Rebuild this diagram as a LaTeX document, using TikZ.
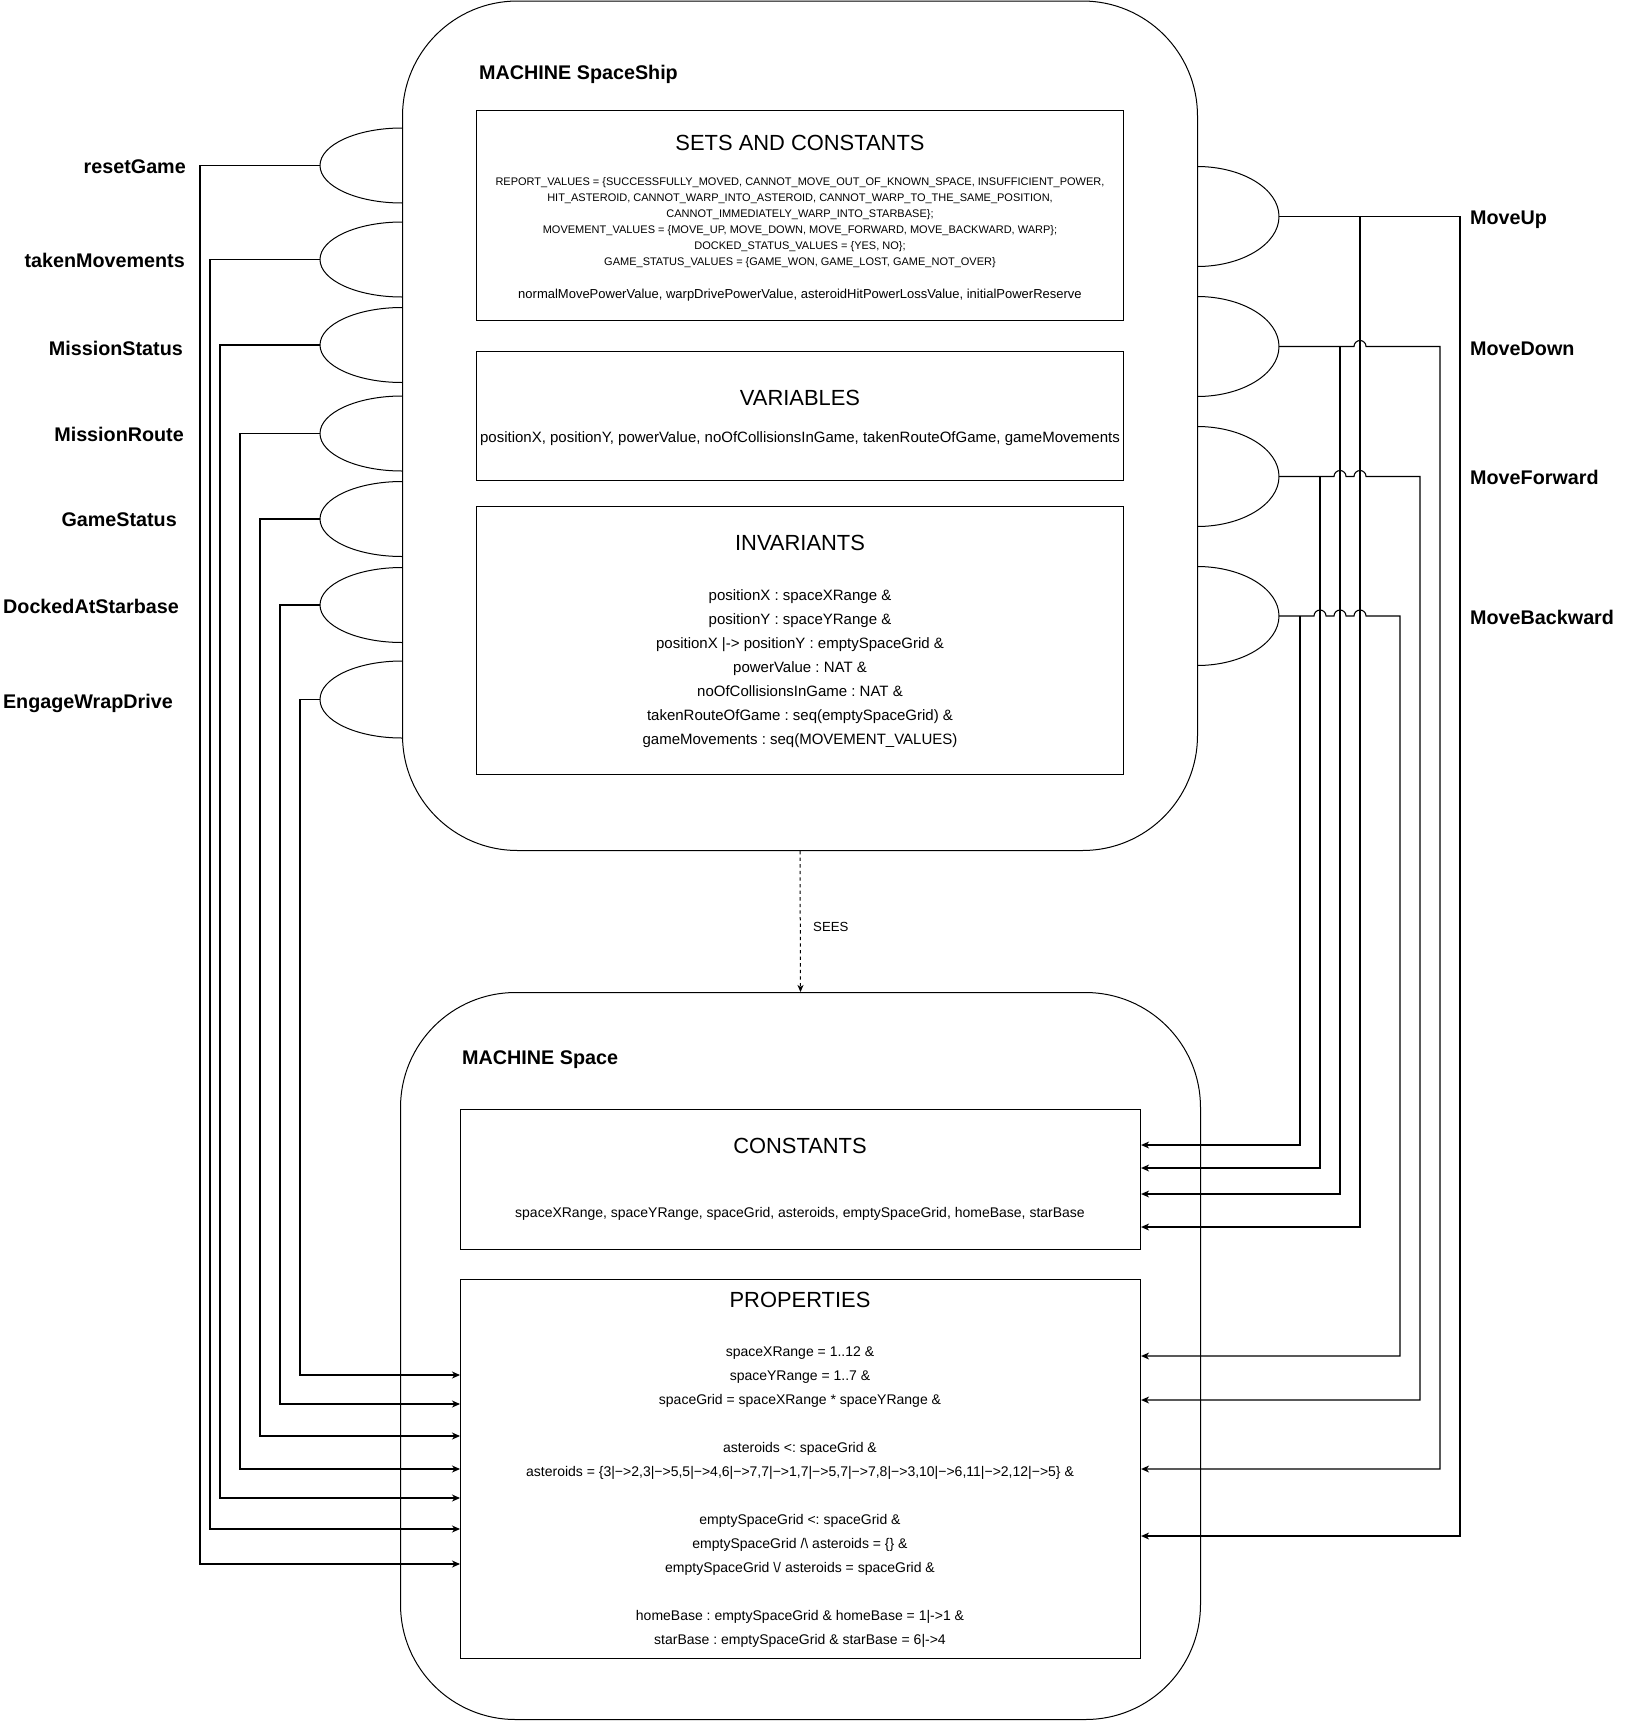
\documentclass[tikz,border=0pt]{standalone}
\usepackage{fontspec}
\setmainfont{Liberation Sans}
\usetikzlibrary{arrows.meta}
\frenchspacing
\newcommand{\opleft}[3]{\draw [black,line width=1pt] (402,{#2-#3}) arc[start angle=90,end angle=270,x radius=82pt,y radius=#3pt];
\coordinate (#1) at (320,#2);}
\newcommand{\opright}[3]{\draw [black,line width=1pt] (1197,{#2-#3}) arc[start angle=90,end angle=-90,x radius=82pt,y radius=#3pt];
\coordinate (#1) at (1279,#2);}

\begin{document}
\begin{tikzpicture}[x=1pt,y=-1pt]
\tikzstyle{every node}+=[inner sep=0pt]
\tikzstyle{machine}=[draw,black,line width=1pt,rounded corners=115pt,anchor=north west]
\tikzstyle{partbox}=[draw,black,line width=1.1pt,anchor=north west]
\tikzstyle{heading}=[font=\fontsize{21.9}{26}\selectfont]
\tikzstyle{bodytext}=[font=\fontsize{13}{24}\selectfont,align=center]
\tikzstyle{midtext}=[font=\fontsize{14}{24}\selectfont,align=center]
\tikzstyle{bigtext}=[font=\fontsize{15}{24}\selectfont,align=center]
\tikzstyle{smalltext}=[font=\fontsize{11}{16}\selectfont,align=center]
\tikzstyle{opname}=[font=\fontsize{19.75}{24}\selectfont\bfseries]
\tikzstyle{link}=[black,line width=1.1pt,-{Stealth[length=8pt,width=7pt,inset=2.5pt]}]
\tikzstyle{sees}=[black,line width=1pt,dash pattern=on 3.3pt off 3.3pt,-{Stealth[length=7pt,width=6pt,inset=2pt]}]
\useasboundingbox (0,0) rectangle (1631,1721);
\node [machine,minimum width=795pt,minimum height=849.5pt] (ship) at (402,0.5) {};
\node [opname,anchor=base west] (shipTitle) at (479,79) {MACHINE SpaceShip};
\node [partbox,minimum width=647pt,minimum height=210pt] (setsbox) at (476,110) {};
\node [heading] (setsTitle) at (800,143) {SETS AND CONSTANTS};
\node [smalltext,anchor=north] (setsText) at (800,177) {REPORT\_VALUES = \{SUCCESSFULLY\_MOVED, CANNOT\_MOVE\_OUT\_OF\_KNOWN\_SPACE, INSUFFICIENT\_POWER,\\
HIT\_ASTEROID, CANNOT\_WARP\_INTO\_ASTEROID, CANNOT\_WARP\_TO\_THE\_SAME\_POSITION,\\
CANNOT\_IMMEDIATELY\_WARP\_INTO\_STARBASE\};\\
MOVEMENT\_VALUES = \{MOVE\_UP, MOVE\_DOWN, MOVE\_FORWARD, MOVE\_BACKWARD, WARP\};\\
DOCKED\_STATUS\_VALUES = \{YES, NO\};\\
GAME\_STATUS\_VALUES = \{GAME\_WON, GAME\_LOST, GAME\_NOT\_OVER\}};
\node [bodytext,anchor=base] (constText) at (800,298) {normalMovePowerValue, warpDrivePowerValue, asteroidHitPowerLossValue, initialPowerReserve};
\node [partbox,minimum width=647pt,minimum height=129pt] (varsbox) at (476,351) {};
\node [heading] (varsTitle) at (800,398) {VARIABLES};
\node [bigtext,anchor=base] (varsText) at (800,442.5) {positionX, positionY, powerValue, noOfCollisionsInGame, takenRouteOfGame, gameMovements};
\node [partbox,minimum width=647pt,minimum height=268pt] (invbox) at (476,506) {};
\node [heading] (invTitle) at (800,543) {INVARIANTS};
\node [bigtext,anchor=north] (invText) at (800,589.5) {positionX : spaceXRange \&\\
positionY : spaceYRange \&\\
positionX |-> positionY : emptySpaceGrid \&\\
powerValue : NAT \&\\
noOfCollisionsInGame : NAT \&\\
takenRouteOfGame : seq(emptySpaceGrid) \&\\
gameMovements : seq(MOVEMENT\_VALUES)};
\node [machine,minimum width=800pt,minimum height=727pt] (space) at (400,992) {};
\node [opname,anchor=base west] (spaceTitle) at (462,1064) {MACHINE Space};
\node [partbox,minimum width=680pt,minimum height=140pt] (constbox) at (460,1109) {};
\node [heading] (constTitle) at (800,1146) {CONSTANTS};
\node [midtext,anchor=base] (spaceConst) at (800,1217) {spaceXRange, spaceYRange, spaceGrid, asteroids, emptySpaceGrid, homeBase, starBase};
\node [partbox,minimum width=680pt,minimum height=379pt] (propbox) at (460,1279) {};
\node [heading] (propTitle) at (800,1300) {PROPERTIES};
\node [midtext,anchor=north] (propText) at (800,1347) {spaceXRange = 1..12 \&\\
spaceYRange = 1..7 \&\\
spaceGrid = spaceXRange * spaceYRange \&\\[24pt]
asteroids <: spaceGrid \&\\
asteroids = \{3|−>2,3|−>5,5|−>4,6|−>7,7|−>1,7|−>5,7|−>7,8|−>3,10|−>6,11|−>2,12|−>5\} \&\\[24pt]
emptySpaceGrid <: spaceGrid \&\\
emptySpaceGrid /\textbackslash{} asteroids = \{\} \&\\
emptySpaceGrid \textbackslash/ asteroids = spaceGrid \&\\[24pt]
homeBase : emptySpaceGrid \& homeBase = 1|->1 \&\\
starBase : emptySpaceGrid \& starBase = 6|->4};
\draw [sees] (ship.south) -- (space.north);
\node [font=\fontsize{13.2}{16}\selectfont,anchor=base west] (seesLabel) at (813,931) {SEES};
\opleft{opReset}{165.5}{37.5}
\opleft{opTaken}{259.5}{37.5}
\opleft{opMStatus}{345}{37.5}
\opleft{opMRoute}{433.5}{37.5}
\opleft{opGStatus}{519}{37.5}
\opleft{opDocked}{605}{37.5}
\opleft{opWarp}{699.5}{38.5}
\node [opname,anchor=base east] (lReset) at (186,173) {resetGame};
\node [opname,anchor=base east] (lTaken) at (185,267) {takenMovements};
\node [opname,anchor=base east] (lMStatus) at (183,355) {MissionStatus};
\node [opname,anchor=base east] (lMRoute) at (184,441) {MissionRoute};
\node [opname,anchor=base east] (lGStatus) at (177,526) {GameStatus};
\node [opname,anchor=base east] (lDocked) at (179,613) {DockedAtStarbase};
\node [opname,anchor=base east] (lWarp) at (173,708) {EngageWrapDrive};
\draw [link] (opReset) -| (200,1564) -- (propbox.west |- 0,1564);
\draw [link] (opTaken) -| (210,1529) -- (propbox.west |- 0,1529);
\draw [link] (opMStatus) -| (220,1498) -- (propbox.west |- 0,1498);
\draw [link] (opMRoute) -| (240,1469) -- (propbox.west |- 0,1469);
\draw [link] (opGStatus) -| (260,1436) -- (propbox.west |- 0,1436);
\draw [link] (opDocked) -| (280,1404) -- (propbox.west |- 0,1404);
\draw [link] (opWarp) -| (300,1375) -- (propbox.west |- 0,1375);
\opright{opUp}{216.5}{50}
\opright{opDown}{346.5}{50}
\opright{opFwd}{476.5}{50}
\opright{opBack}{616}{49.5}
\node [opname,anchor=base west] (rUp) at (1470,224) {MoveUp};
\node [opname,anchor=base west] (rDown) at (1470,355) {MoveDown};
\node [opname,anchor=base west] (rFwd) at (1470,484) {MoveForward};
\node [opname,anchor=base west] (rBack) at (1470,624) {MoveBackward};
\draw [link] (opUp) -| (1460,1536) -- (propbox.east |- 0,1536);
\draw [link] (opUp -| 1360,0) |- (constbox.east |- 0,1227);
\draw [link] (opDown) -- (1354,346.5) arc[start angle=180,end angle=0,radius=6pt] -| (1440,1469) -- (propbox.east |- 0,1469);
\draw [link] (opDown -| 1340,0) |- (constbox.east |- 0,1194);
\draw [link] (opFwd) -- (1334,476.5) arc[start angle=180,end angle=0,radius=6pt] -- (1354,476.5) arc[start angle=180,end angle=0,radius=6pt] -| (1420,1400) -- (propbox.east |- 0,1400);
\draw [link] (opFwd -| 1320,0) |- (constbox.east |- 0,1168);
\draw [link] (opBack) -- (1314,616) arc[start angle=180,end angle=0,radius=6pt] -- (1334,616) arc[start angle=180,end angle=0,radius=6pt] -- (1354,616) arc[start angle=180,end angle=0,radius=6pt] -| (1400,1356) -- (propbox.east |- 0,1356);
\draw [link] (opBack -| 1300,0) |- (constbox.east |- 0,1145);
\end{tikzpicture}
\end{document}
